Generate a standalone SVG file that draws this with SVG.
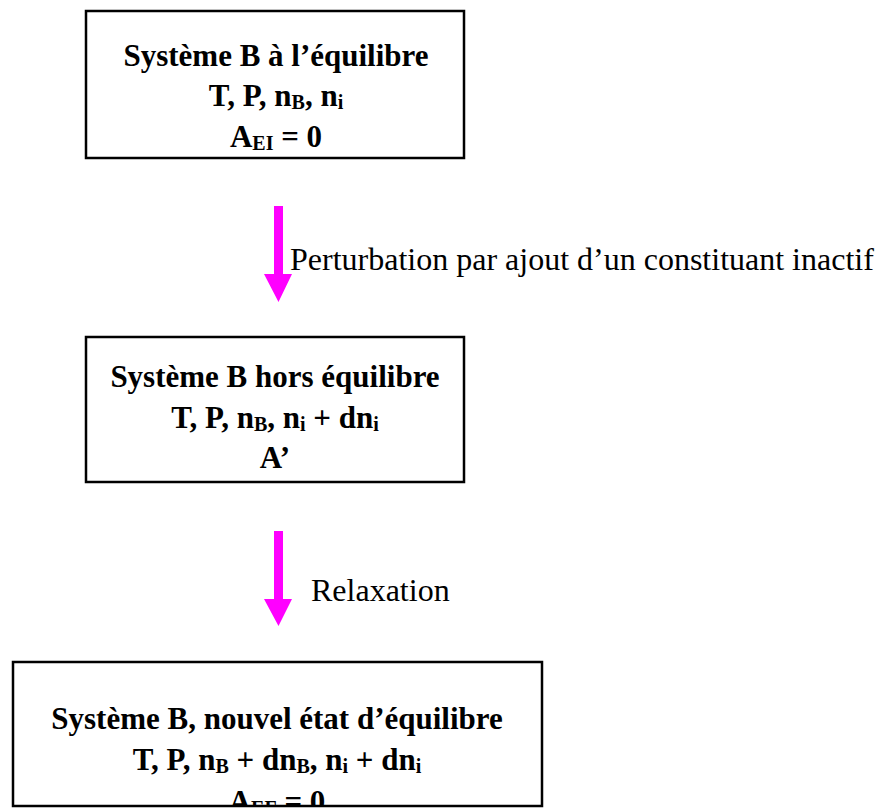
<svg xmlns="http://www.w3.org/2000/svg" width="883" height="809" viewBox="0 0 883 809">
<style>
.box{fill:#fff;stroke:#000;stroke-width:2.5}
.t{font-family:"Liberation Serif","Times New Roman",serif;font-size:31px;font-weight:bold;fill:#000;text-anchor:middle}
.lbl{font-family:"Liberation Serif","Times New Roman",serif;font-size:32px;fill:#000}
.s{font-size:20px}
.arrow{fill:#FF00FF}
</style>
<defs>
<clipPath id="c3"><rect x="14" y="663" width="527" height="142"/></clipPath>
</defs>
<g id="n1">
<rect class="box" x="86" y="11" width="378" height="147"/>
<text class="t" x="276" y="66">Système B à l’équilibre</text>
<text class="t" x="276" y="106">T, P, n<tspan class="s" baseline-shift="-3">B</tspan>, n<tspan class="s" baseline-shift="-3">i</tspan></text>
<text class="t" x="276" y="147">A<tspan class="s" baseline-shift="-3">EI</tspan> = 0</text>
</g>
<g id="n2">
<rect class="box" x="86" y="337" width="378" height="145"/>
<text class="t" x="275" y="387">Système B hors équilibre</text>
<text class="t" x="275" y="428">T, P, n<tspan class="s" baseline-shift="-3">B</tspan>, n<tspan class="s" baseline-shift="-3">i</tspan> + dn<tspan class="s" baseline-shift="-3">i</tspan></text>
<text class="t" x="275" y="468">A’</text>
</g>
<g id="n3">
<rect class="box" x="13" y="662" width="529" height="144"/>
<g clip-path="url(#c3)">
<text class="t" x="277" y="729">Système B, nouvel état d’équilibre</text>
<text class="t" x="277" y="770">T, P, n<tspan class="s" baseline-shift="-3">B</tspan> + dn<tspan class="s" baseline-shift="-3">B</tspan>, n<tspan class="s" baseline-shift="-3">i</tspan> + dn<tspan class="s" baseline-shift="-3">i</tspan></text>
<text class="t" x="277" y="812">A<tspan class="s" baseline-shift="-3">EF</tspan> = 0</text>
</g>
</g>
<g id="connectors">
<polygon class="arrow" points="274,206 283,206 283,274 292,274 278.5,302 264,274 274,274"/>
<polygon class="arrow" points="274,531 283,531 283,599 292,599 278.5,626 264,599 274,599"/>
<text class="lbl" x="290" y="270">Perturbation par ajout d’un constituant inactif</text>
<text class="lbl" x="311" y="601">Relaxation</text>
</g>
</svg>
